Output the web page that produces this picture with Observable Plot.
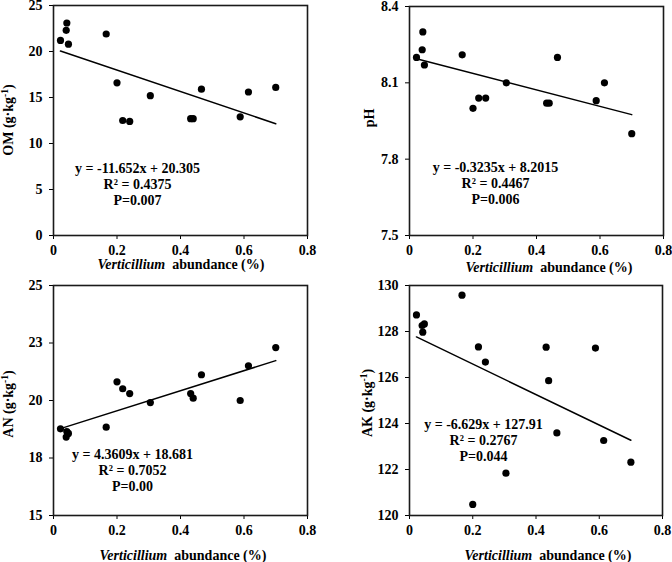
<!DOCTYPE html>
<html><head><meta charset="utf-8">
<script src="https://cdn.jsdelivr.net/npm/d3@7"></script>
<script src="https://cdn.jsdelivr.net/npm/@observablehq/plot@0.6"></script>
<style>
html,body{margin:0;padding:0;background:#fff;}
#wrap{position:relative;width:672px;height:562px;overflow:hidden;background:#fff;}
.panel{position:absolute;}
.panel svg text{font-family:'Liberation Serif','Times New Roman',Times,serif !important;font-weight:bold !important;}
</style></head><body><div id="wrap"></div>
<script>
// ---- data ----
const abundance = [0.022, 0.040, 0.042, 0.047, 0.166, 0.200, 0.218, 0.240, 0.305, 0.432, 0.440, 0.466, 0.588, 0.614, 0.700];
const omValues  = [21.2, 22.3, 23.1, 20.8, 21.9, 16.6, 12.5, 12.4, 15.2, 12.7, 12.7, 15.9, 12.9, 15.6, 16.1];
const phValues  = [8.20, 8.23, 8.30, 8.17, 8.21, 8.00, 8.04, 8.04, 8.10, 8.02, 8.02, 8.20, 8.03, 8.10, 7.90];
const anValues  = [18.77, 18.41, 18.65, 18.57, 18.84, 20.81, 20.51, 20.30, 19.91, 20.30, 20.10, 21.12, 20.00, 21.51, 22.30];
const akValues  = [128.72, 128.26, 127.97, 128.33, 129.58, 120.48, 127.33, 126.67, 121.84, 127.32, 125.86, 123.59, 127.28, 123.26, 122.32];

const panelNames = ["OM", "pH", "AN", "AK"];
const panelHasUnit = [true, false, true, true];
const slopes     = [-11.652, -0.3235, 4.3609, -6.629];
const intercepts = [20.305, 8.2015, 18.681, 127.91];
const equationTexts = ["y = -11.652x + 20.305", "y = -0.3235x + 8.2015", "y = 4.3609x + 18.681", "y = -6.629x + 127.91"];
const r2Texts = ["0.4375", "0.4467", "0.7052", "0.2767"];
const pTexts  = ["0.007", "0.006", "0.00", "0.044"];

const xTicks = [0, 0.2, 0.4, 0.6, 0.8];
const xTickLabels = ["0", "0.2", "0.4", "0.6", "0.8"];
const omTicks = [0, 5, 10, 15, 20, 25];
const omTickLabels = ["0", "5", "10", "15", "20", "25"];
const phTicks = [7.5, 7.8, 8.1, 8.4];
const phTickLabels = ["7.5", "7.8", "8.1", "8.4"];
const anTicks = [15, 17.5, 20, 22.5, 25];
const anTickLabels = ["15", "18", "20", "23", "25"];
const akTicks = [120, 122, 124, 126, 128, 130];
const akTickLabels = ["120", "122", "124", "126", "128", "130"];
const xTitleItalic = "Verticillium";
const xTitleRest = "abundance (%)";
const unitText = "g\u00b7kg";
const unitSup = "-1";

// ---- layout (positions / styles) ----
const layout = [
  {left: 0,   top: 0,   width: 336, height: 280, mt: 5, mr: 29, mb: 45, ml: 53, eqDx: 84, eqDy: 156, xtx: 181, xty: 269, ytx: 8,  yty: 120},
  {left: 336, top: 0,   width: 336, height: 280, mt: 6, mr: 9,  mb: 45, ml: 73, eqDx: 86, eqDy: 154, xtx: 213, xty: 272, ytx: 33, yty: 118},
  {left: 0,   top: 280, width: 336, height: 282, mt: 5, mr: 29, mb: 47, ml: 53, eqDx: 79, eqDy: 162, xtx: 183, xty: 280, ytx: 8,  yty: 124},
  {left: 336, top: 280, width: 336, height: 282, mt: 5, mr: 10, mb: 47, ml: 73, eqDx: 74, eqDy: 132, xtx: 212, xty: 280, ytx: 31, yty: 123}
];
const FONT = "'Liberation Serif', 'Times New Roman', Times, serif";

const yValueSets = [omValues, phValues, anValues, akValues];
const yTickSets = [omTicks, phTicks, anTicks, akTicks];
const yTickLabelSets = [omTickLabels, phTickLabels, anTickLabels, akTickLabels];

const wrap = document.getElementById("wrap");
const xLabelMap = new Map(xTicks.map((t, i) => [t, xTickLabels[i]]));

panelNames.forEach((name, k) => {
  const L = layout[k];
  const points = abundance.map((x, i) => ({x, y: yValueSets[k][i]}));
  const ext = d3.extent(abundance);
  const fit = ext.map(x => ({x, y: slopes[k] * x + intercepts[k]}));
  const yt = yTickSets[k];
  const yLabelMap = new Map(yt.map((t, i) => [t, yTickLabelSets[k][i]]));
  const annotation = [equationTexts[k], "R\u00b2 = " + r2Texts[k], "P=" + pTexts[k]].join("\n");

  const svg = Plot.plot({
    width: L.width, height: L.height,
    marginTop: L.mt, marginRight: L.mr, marginBottom: L.mb, marginLeft: L.ml,
    style: {fontFamily: FONT, fontSize: "14px", fontWeight: "bold", color: "#000", background: "transparent", overflow: "visible"},
    x: {domain: [0, 0.8]},
    y: {domain: [yt[0], yt[yt.length - 1]]},
    marks: [
      Plot.axisX({ticks: xTicks, tickFormat: d => xLabelMap.get(d), tickSize: 4, tickPadding: 6, label: null, fontSize: 14, fontFamily: FONT, fontWeight: "bold"}),
      Plot.axisY({ticks: yt, tickFormat: d => yLabelMap.get(d), tickSize: 4, tickPadding: 7, label: null, fontSize: 14, fontFamily: FONT, fontWeight: "bold"}),
      Plot.frame({stroke: "#1a1a1a", strokeWidth: 1.6}),
      Plot.line(fit, {x: "x", y: "y", stroke: "#000", strokeWidth: 1.5}),
      Plot.dot(points, {x: "x", y: "y", r: 3.6, fill: "#000", stroke: "none"}),
      Plot.text([annotation], {text: d => d, frameAnchor: "top-left", dx: L.eqDx, dy: L.eqDy, textAnchor: "middle", lineAnchor: "top", lineHeight: 1.15, fontSize: 14, fontFamily: FONT, fontWeight: "bold", fill: "#000"})
    ]
  });

  const s = d3.select(svg);
  // x title
  const xt = s.append("text")
    .attr("x", L.xtx).attr("y", L.xty)
    .attr("text-anchor", "middle")
    .attr("font-family", FONT).attr("font-size", 14).attr("font-weight", "bold").attr("fill", "#000");
  xt.append("tspan").attr("font-style", "italic").style("font-style", "italic").text(xTitleItalic);
  xt.append("tspan").text("\u00a0 " + xTitleRest);
  // y title
  const ytx = s.append("text")
    .attr("transform", `translate(${L.ytx},${L.yty}) rotate(-90)`)
    .attr("text-anchor", "middle").attr("dy", "0.35em")
    .attr("font-family", FONT).attr("font-size", 14).attr("font-weight", "bold").attr("fill", "#000");
  if (panelHasUnit[k]) {
    ytx.append("tspan").text(name + " (" + unitText);
    ytx.append("tspan").attr("dy", -5).attr("font-size", 9.5).text(unitSup);
    ytx.append("tspan").attr("dy", 5).text(")");
  } else {
    ytx.text(name);
  }
  // force serif bold everywhere
  s.selectAll("text, tspan").style("font-family", FONT).style("font-weight", "bold");
  s.selectAll("g[aria-label='x-axis tick label'], g[aria-label='y-axis tick label']").style("font-size", "14px");

  const div = document.createElement("div");
  div.className = "panel";
  div.style.left = L.left + "px";
  div.style.top = L.top + "px";
  div.appendChild(svg);
  wrap.appendChild(div);
});
</script>
</body></html>
